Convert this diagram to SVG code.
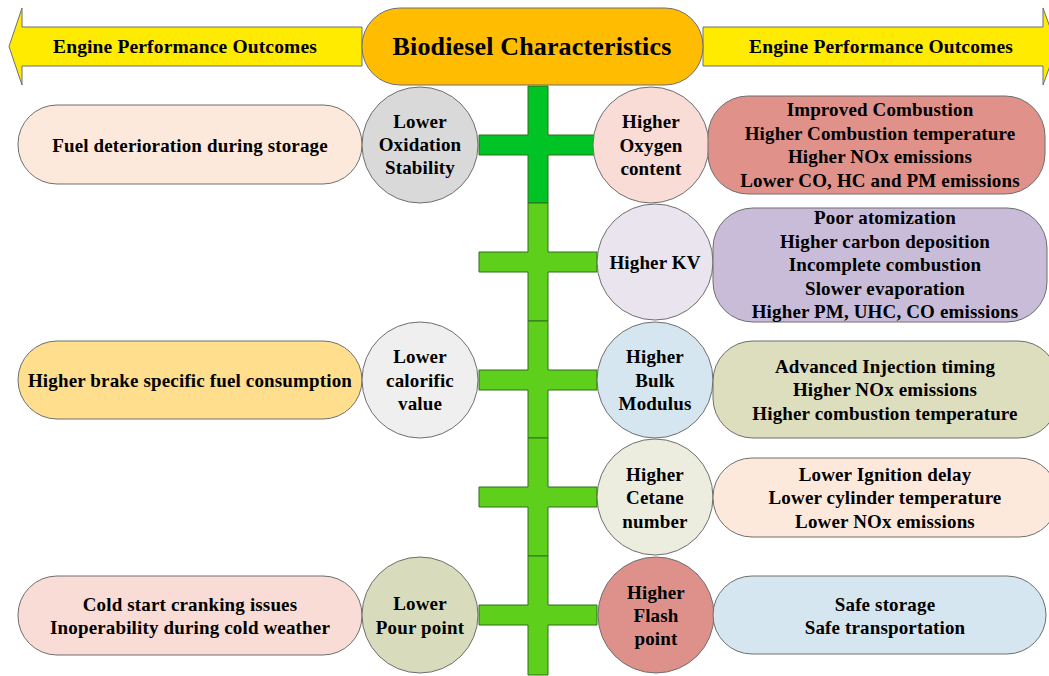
<svg xmlns="http://www.w3.org/2000/svg" width="1049" height="676" viewBox="0 0 1049 676">
<style>
  text { font-family: "Liberation Serif", "Times New Roman", serif; font-weight: bold; fill: #000; text-anchor: middle; dominant-baseline: central; font-size: 19px; letter-spacing: 0.15px; }
  .shape { stroke: #6e6e6e; stroke-width: 1; }
  .cross { stroke: #2f6f1a; stroke-width: 1; }
  .hdr { font-size: 19.5px; }
  .title { font-size: 26px; }
</style>
<rect width="1049" height="676" fill="#ffffff"/>

<g id="arrow-left">
  <path class="shape" d="M362,27 H22 V8 L9,46.5 L22,85 V66 H362 Z" fill="#FFEB00"/>
  <text class="hdr" x="185" y="46.5">Engine Performance Outcomes</text>
</g>
<g id="arrow-right">
  <path class="shape" d="M703,27 H1043 V8 L1057,46.5 L1043,85 V66 H703 Z" fill="#FFEB00"/>
  <text class="hdr" x="881" y="46.5">Engine Performance Outcomes</text>
</g>

<g id="connectors">
  <path class="cross" fill="#00C425" d="M528,86 H548 V135 H597 V155 H548 V203 H528 V155 H479 V135 H528 Z"/>
  <path class="cross" fill="#5ECF1A" d="M528,203 H548 V252 H597 V272 H548 V321 H528 V272 H479 V252 H528 Z"/>
  <path class="cross" fill="#5ECF1A" d="M528,321 H548 V370 H597 V390 H548 V438 H528 V390 H479 V370 H528 Z"/>
  <path class="cross" fill="#5ECF1A" d="M528,438 H548 V487 H597 V507 H548 V556 H528 V507 H479 V487 H528 Z"/>
  <path class="cross" fill="#5ECF1A" d="M528,556 H548 V605 H597 V625 H548 V675 H528 V625 H479 V605 H528 Z"/>
</g>

<g id="title">
  <rect class="shape" x="362" y="8" width="341" height="77" rx="38" fill="#FFBC00"/>
  <text class="title" x="532" y="46.5">Biodiesel Characteristics</text>
</g>

<g id="left-box-1">
  <rect class="shape" x="18" y="105" width="344" height="79" rx="39" fill="#FDE9DC"/>
  <text x="190" y="145">Fuel deterioration during storage</text>
</g>
<g id="left-circle-1">
  <circle class="shape" cx="420" cy="145" r="58" fill="#D9D9D9"/>
  <text x="420" y="121">Lower</text>
  <text x="420" y="144">Oxidation</text>
  <text x="420" y="167">Stability</text>
</g>

<g id="left-box-2">
  <rect class="shape" x="18" y="341" width="344" height="78" rx="39" fill="#FFDE8E"/>
  <text x="190" y="380">Higher brake specific fuel consumption</text>
</g>
<g id="left-circle-2">
  <circle class="shape" cx="420" cy="380" r="58" fill="#EFEFEF"/>
  <text x="420" y="356">Lower</text>
  <text x="420" y="380">calorific</text>
  <text x="420" y="403">value</text>
</g>

<g id="left-box-3">
  <rect class="shape" x="18" y="576" width="344" height="79" rx="39" fill="#F8DCD5"/>
  <text x="190" y="604">Cold start cranking issues</text>
  <text x="190" y="627">Inoperability during cold weather</text>
</g>
<g id="left-circle-3">
  <circle class="shape" cx="420" cy="615" r="58" fill="#D9DCBC"/>
  <text x="420" y="603">Lower</text>
  <text x="420" y="627">Pour point</text>
</g>

<g id="right-circle-1">
  <circle class="shape" cx="651" cy="145" r="58" fill="#F8DCD5"/>
  <text x="651" y="121">Higher</text>
  <text x="651" y="145">Oxygen</text>
  <text x="651" y="168">content</text>
</g>
<g id="right-box-1">
  <rect class="shape" x="708" y="96" width="337" height="98" rx="40" fill="#DF918A"/>
  <text x="880" y="109">Improved Combustion</text>
  <text x="880" y="133">Higher Combustion temperature</text>
  <text x="880" y="156">Higher NOx emissions</text>
  <text x="880" y="180">Lower CO, HC and PM emissions</text>
</g>

<g id="right-circle-2">
  <circle class="shape" cx="655" cy="262" r="58" fill="#EAE4EF"/>
  <text x="655" y="262">Higher KV</text>
</g>
<g id="right-box-2">
  <rect class="shape" x="713" y="208" width="334" height="114" rx="40" fill="#C9BCD8"/>
  <text x="885" y="217">Poor atomization</text>
  <text x="885" y="241">Higher carbon deposition</text>
  <text x="885" y="264">Incomplete combustion</text>
  <text x="885" y="288">Slower evaporation</text>
  <text x="885" y="311">Higher PM, UHC, CO emissions</text>
</g>

<g id="right-circle-3">
  <circle class="shape" cx="655" cy="380" r="58" fill="#D5E6F0"/>
  <text x="655" y="356">Higher</text>
  <text x="655" y="380">Bulk</text>
  <text x="655" y="403">Modulus</text>
</g>
<g id="right-box-3">
  <rect class="shape" x="713" y="341" width="345" height="97" rx="40" fill="#DCDEBD"/>
  <text x="885" y="366">Advanced Injection timing</text>
  <text x="885" y="389">Higher NOx emissions</text>
  <text x="885" y="413">Higher combustion temperature</text>
</g>

<g id="right-circle-4">
  <circle class="shape" cx="655" cy="497" r="58" fill="#ECEDDF"/>
  <text x="655" y="474">Higher</text>
  <text x="655" y="497">Cetane</text>
  <text x="655" y="521">number</text>
</g>
<g id="right-box-4">
  <rect class="shape" x="713" y="458" width="345" height="79" rx="39" fill="#FDE9DC"/>
  <text x="885" y="474">Lower Ignition delay</text>
  <text x="885" y="497">Lower cylinder temperature</text>
  <text x="885" y="521">Lower NOx emissions</text>
</g>

<g id="right-circle-5">
  <circle class="shape" cx="656" cy="615" r="58" fill="#DE918A"/>
  <text x="656" y="592">Higher</text>
  <text x="656" y="615">Flash</text>
  <text x="656" y="638">point</text>
</g>
<g id="right-box-5">
  <rect class="shape" x="713" y="576" width="333" height="78" rx="39" fill="#D5E6F0"/>
  <text x="885" y="604">Safe storage</text>
  <text x="885" y="627">Safe transportation</text>
</g>
</svg>
